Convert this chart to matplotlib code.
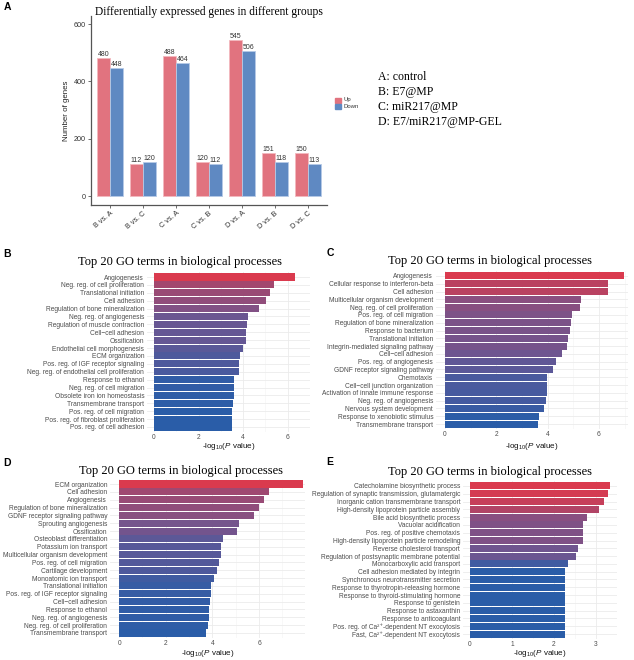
import numpy as np
import matplotlib
matplotlib.use("Agg")
import matplotlib.pyplot as plt
from matplotlib.colors import LinearSegmentedColormap

plt.rcParams["font.family"] = ["Liberation Sans", "DejaVu Sans"]
plt.rcParams["mathtext.fontset"] = "custom"
plt.rcParams["mathtext.rm"] = "Liberation Sans"
plt.rcParams["mathtext.it"] = "Liberation Sans:italic"

W, H = 634, 660
SERIF = ["Liberation Serif", "DejaVu Serif"]

# ---- panel A data
groups = ["B vs. A", "B vs. C", "C vs. A", "C vs. B", "D vs. A", "D vs. B", "D vs. C"]
up_counts = [480, 112, 488, 120, 545, 151, 150]
down_counts = [448, 120, 464, 112, 506, 118, 113]
group_key = ["A: control", "B: E7@MP", "C: miR217@MP", "D: E7/miR217@MP-GEL"]

# ---- GO panels data
terms_b = ["Angiogenesis", "Neg. reg. of cell proliferation", "Translational initiation",
           "Cell adhesion", "Regulation of bone mineralization", "Neg. reg. of angiogenesis",
           "Regulation of muscle contraction", "Cell\u2212cell adhesion", "Ossification",
           "Endothelial cell morphogenesis", "ECM organization",
           "Pos. reg. of IGF receptor signaling", "Neg. reg. of endothelial cell proliferation",
           "Response to ethanol", "Neg. reg. of cell migration", "Obsolete iron ion homeostasis",
           "Transmembrane transport", "Pos. reg. of cell migration",
           "Pos. reg. of fibroblast proliferation", "Pos. reg. of cell adhesion"]
vals_b = [6.31, 5.40, 5.21, 5.04, 4.72, 4.23, 4.16, 4.13, 4.13, 3.99,
          3.84, 3.83, 3.80, 3.60, 3.60, 3.57, 3.55, 3.50, 3.50, 3.50]

terms_c = ["Angiogenesis", "Cellular response to interferon-beta", "Cell adhesion",
           "Multicellular organism development", "Neg. reg. of cell proliferation",
           "Pos. reg. of cell migration", "Regulation of bone mineralization",
           "Response to bacterium", "Translational initiation",
           "Integrin-mediated signaling pathway", "Cell\u2212cell adhesion",
           "Pos. reg. of angiogenesis", "GDNF receptor signaling pathway", "Chemotaxis",
           "Cell\u2212cell junction organization", "Activation of innate immune response",
           "Neg. reg. of angiogenesis", "Nervous system development",
           "Response to xenobiotic stimulus", "Transmembrane transport"]
vals_c = [6.99, 6.37, 6.34, 5.31, 5.25, 4.96, 4.92, 4.86, 4.78, 4.77,
          4.57, 4.31, 4.22, 3.98, 3.98, 3.96, 3.93, 3.84, 3.66, 3.62]

terms_d = ["ECM organization", "Cell adhesion", "Angiogenesis",
           "Regulation of bone mineralization", "GDNF receptor signaling pathway",
           "Sprouting angiogenesis", "Ossification", "Osteoblast differentiation",
           "Potassium ion transport", "Multicellular organism development",
           "Pos. reg. of cell migration", "Cartilage development", "Monoatomic ion transport",
           "Translational initiation", "Pos. reg. of IGF receptor signaling",
           "Cell\u2212cell adhesion", "Response to ethanol", "Neg. reg. of angiogenesis",
           "Neg. reg. of cell proliferation", "Transmembrane transport"]
vals_d = [7.90, 6.44, 6.23, 5.99, 5.77, 5.13, 5.06, 4.47, 4.39, 4.37,
          4.30, 4.21, 4.06, 3.96, 3.94, 3.89, 3.84, 3.84, 3.80, 3.71]

terms_e = ["Catecholamine biosynthetic process",
           "Regulation of synaptic transmission, glutamatergic",
           "Inorganic cation transmembrane transport",
           "High-density lipoprotein particle assembly", "Bile acid biosynthetic process",
           "Vacuolar acidification", "Pos. reg. of positive chemotaxis",
           "High-density lipoprotein particle remodeling", "Reverse cholesterol transport",
           "Regulation of postsynaptic membrane potential", "Monocarboxylic acid transport",
           "Cell adhesion mediated by integrin", "Synchronous neurotransmitter secretion",
           "Response to thyrotropin-releasing hormone",
           "Response to thyroid-stimulating hormone", "Response to genistein",
           "Response to astaxanthin", "Response to anticoagulant",
           "Pos. reg. of Ca\u00b2\u207a-dependent NT exocytosis",
           "Fast, Ca\u00b2\u207a-dependent NT exocytosis"]
vals_e = [3.34, 3.30, 3.21, 3.08, 2.79, 2.71, 2.71, 2.71, 2.58, 2.54,
          2.35, 2.26, 2.26, 2.26, 2.26, 2.26, 2.26, 2.26, 2.26, 2.26]

go_cmap = LinearSegmentedColormap.from_list("go", [
    (0.0, "#2A5DA8"), (0.05, "#345CA5"), (0.12, "#4F599C"), (0.25, "#6A5692"),
    (0.5, "#8A4F80"), (0.7, "#A6466C"), (1.0, "#DA3A4E")])


def px_axes(fig, left, top, right, bottom):
    return fig.add_axes([left / W, 1 - bottom / H, (right - left) / W, (bottom - top) / H])


fig = plt.figure(figsize=(W / 100, H / 100), dpi=100)

# ---------------- panel A
ax = px_axes(fig, 91, 16, 327, 205)
x = np.arange(len(groups))
bw = 0.394
ax.bar(x - bw / 2, up_counts, bw, color="#E1737F", edgecolor="#F3B9BF", linewidth=0.6)
ax.bar(x + bw / 2, down_counts, bw, color="#5F89C2", edgecolor="#B6CAE6", linewidth=0.6)
for xi, u, d in zip(x, up_counts, down_counts):
    ax.text(xi - bw / 2, u, str(u), ha="center", va="bottom", fontsize=5, color="#333333")
    ax.text(xi + bw / 2, d, str(d), ha="center", va="bottom", fontsize=5, color="#333333")
ax.set_xlim(-0.576, 6.58)
ax.set_ylim(-31, 628)
ax.set_yticks([0, 200, 400, 600])
ax.set_xticks(x)
ax.set_xticklabels(groups, rotation=40, ha="right", rotation_mode="anchor")
ax.tick_params(labelsize=5.2, colors="#333333", length=2, width=0.5, pad=1.5)
for s in ["top", "right"]:
    ax.spines[s].set_visible(False)
for s in ["left", "bottom"]:
    ax.spines[s].set_color("#555555")
    ax.spines[s].set_linewidth(0.9)
ax.set_ylabel("Number of genes", fontsize=5.7, color="#222222", labelpad=3)
fig.text(95 / W, 1 - 12 / H, "Differentially expressed genes in different groups",
         fontsize=8.3, family=SERIF, ha="left", va="center")

# legend Up/Down
for i, (lab, col) in enumerate([("Up", "#E1737F"), ("Down", "#5F89C2")]):
    fig.patches.append(plt.Rectangle((335 / W, 1 - (103 + 6 * i) / H), 5.5 / W, 5.5 / H,
                                     color=col, transform=fig.transFigure))
    fig.text(343 / W, 1 - (100 + 6 * i) / H, lab, fontsize=4.3, color="#333333",
             va="center")
for i, t in enumerate(group_key):
    fig.text(378 / W, 1 - (77 + 15 * i) / H, t, fontsize=8.5, family=SERIF, va="center")


# ---------------- GO panels
def go_panel(terms, vals, left, right, top, bottom, xlim, xticks, title_xy, xlabel_y):
    ax = px_axes(fig, left, top, right, bottom)
    n = len(terms)
    y = np.arange(n)[::-1]
    v = np.array(vals)
    norm = (v - v.min()) / (v.max() - v.min())
    ax.barh(y, v, 0.9, color=go_cmap(norm), zorder=2)
    ax.set_ylim(-0.6, n - 0.4)
    ax.set_xlim(*xlim)
    ax.set_yticks(y)
    ax.set_yticklabels(terms)
    ax.set_xticks(xticks)
    ax.set_xticks([t + (xticks[1] - xticks[0]) / 2 for t in xticks], minor=True)
    ax.tick_params(axis="both", which="both", length=0, labelsize=4.75,
                   colors="#4D4D4D", pad=2)
    ax.tick_params(axis="x", pad=1.5)
    ax.grid(True, which="major", color="#EBEBEB", linewidth=0.6, zorder=0)
    ax.grid(True, which="minor", axis="x", color="#F4F4F4", linewidth=0.4, zorder=0)
    ax.set_axisbelow(True)
    for s in ax.spines.values():
        s.set_visible(False)
    fig.text(title_xy[0] / W, 1 - title_xy[1] / H, "Top 20 GO terms in biological processes",
             fontsize=9.0, family=SERIF, ha="center", va="center")
    fig.text((left + right) / 2 / W, 1 - xlabel_y / H, r"-log$_{10}$($\it{P}$ value)",
             fontsize=5.8, ha="center", va="center", color="#111111")
    return ax


go_panel(terms_b, vals_b, 147, 310, 272.3, 431.7, (-0.315, 6.63), [0, 2, 4, 6], (180, 262), 447)
go_panel(terms_c, vals_c, 436, 628, 271.3, 428.7, (-0.35, 7.13), [0, 2, 4, 6], (490, 261), 447)
go_panel(terms_d, vals_d, 110, 305, 479.3, 637.7, (-0.39, 7.97), [0, 2, 4, 6], (181, 471), 653.5)
go_panel(terms_e, vals_e, 463, 617, 481.3, 638.7, (-0.167, 3.51), [0, 1, 2, 3], (490, 472), 653.5)

# panel letters
for lab, (px, py) in {"A": (7, 7), "B": (7, 254), "C": (330, 253), "D": (7, 463), "E": (330, 462)}.items():
    fig.text(px / W, 1 - py / H, lab, fontsize=7.5, fontweight="bold", ha="center", va="center")

fig.savefig("out.png", dpi=100)
